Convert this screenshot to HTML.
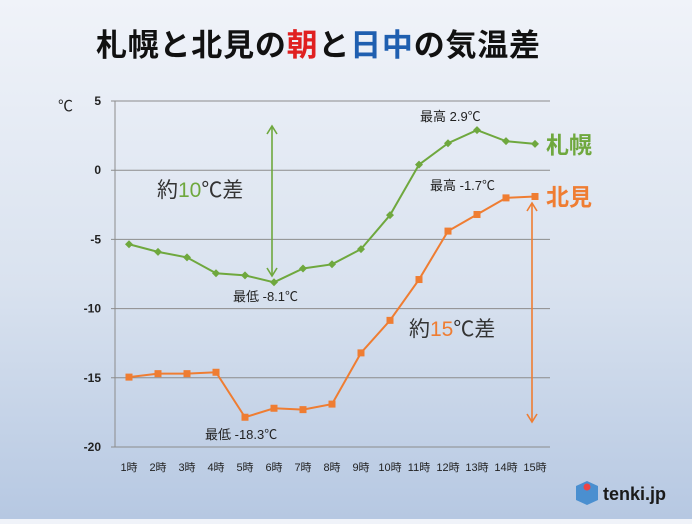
<!DOCTYPE html>
<html><head><meta charset="utf-8"><style>
html,body{margin:0;padding:0}
body{width:692px;height:519px;overflow:hidden;background:linear-gradient(#f0f3f9 0%,#d9e2ef 55%,#b6c8e2 100%);font-family:"Liberation Sans","Noto Sans CJK JP",sans-serif}
svg text{font-family:"Liberation Sans","Noto Sans CJK JP",sans-serif}
</style></head><body>
<svg id="chart" width="692" height="519">
<text x="318" y="56" text-anchor="middle" font-size="31" font-weight="bold" fill="#111" textLength="444">札幌と北見の<tspan fill="#e02020">朝</tspan>と<tspan fill="#1f5fb0">日中</tspan>の気温差</text>
<text x="58" y="111" font-size="15" fill="#222">℃</text>
<g id="grid"></g><g id="series"></g>
</svg>
<script>
const categories=["1時","2時","3時","4時","5時","6時","7時","8時","9時","10時","11時","12時","13時","14時","15時"];
const sapporo=[-5.35,-5.9,-6.3,-7.45,-7.6,-8.1,-7.1,-6.8,-5.7,-3.25,0.4,1.95,2.9,2.1,1.9];
const kitami=[-14.95,-14.7,-14.7,-14.6,-17.85,-17.2,-17.3,-16.9,-13.2,-10.85,-7.9,-4.4,-3.2,-2.0,-1.9];
const yTicks=[5,0,-5,-10,-15,-20];
const NS="http://www.w3.org/2000/svg";
const L=115,R=550,X0=129,XS=29,Y5=101,PU=13.84;
function x(i){return X0+i*XS}
function y(v){return Y5+(5-v)*PU}
function mk(tag,at,parent){const e=document.createElementNS(NS,tag);for(const k in at)e.setAttribute(k,at[k]);parent.appendChild(e);return e}
const svg=document.getElementById('chart'),grid=document.getElementById('grid'),ser=document.getElementById('series');
yTicks.forEach(v=>{
 const l=mk('line',{x1:L-4,x2:R,y1:y(v),y2:y(v),stroke:'#8c8c8c','stroke-width':1},grid);
 
 
 const t=mk('text',{x:101,y:y(v)+4,'text-anchor':'end','font-size':12,'font-weight':'bold',fill:'#222'},grid);t.textContent=v;
 
 
});
const ax=mk('line',{x1:L,x2:L,y1:y(5),y2:y(-20),stroke:'#8c8c8c'},grid);


categories.forEach((c,i)=>{
 const t=mk('text',{x:x(i),y:471,'text-anchor':'middle','font-size':11,fill:'#222'},grid);t.textContent=c;
 
 
});
function draw(data,color,name,marker){
 const p=mk('polyline',{points:data.map((v,i)=>x(i)+','+y(v)).join(' '),fill:'none',stroke:color,'stroke-width':2},ser);
 
 
 data.forEach((v,i)=>{
  let m;
  if(marker==='d'){m=mk('polygon',{points:`${x(i)},${y(v)-4} ${x(i)+4},${y(v)} ${x(i)},${y(v)+4} ${x(i)-4},${y(v)}`,fill:color},ser);}
  else{m=mk('rect',{x:x(i)-3.5,y:y(v)-3.5,width:7,height:7,fill:color},ser);}
  
  
 });
}
draw(sapporo,'#6fa83e','sapporo','d');
draw(kitami,'#ef7d32','kitami','s');
function arrow(xx,y1,y2,color,name){
 const g=mk('g',{stroke:color,'stroke-width':1.6,fill:'none'},ser);
 
 
 mk('line',{x1:xx,x2:xx,y1:y1,y2:y2},g);
 mk('polyline',{points:`${xx-5},${y1+8} ${xx},${y1} ${xx+5},${y1+8}`},g);
 mk('polyline',{points:`${xx-5},${y2-8} ${xx},${y2} ${xx+5},${y2-8}`},g);
}
arrow(272,126,276,'#6fa83e','sapporo-diff-arrow');
arrow(532,203,422,'#ef7d32','kitami-diff-arrow');
function label(txt,xx,yy,size,fill,name,weight){
 const t=mk('text',{x:xx,y:yy,'font-size':size,fill:fill,'font-weight':weight||'normal'},svg);t.innerHTML=txt;
 
 
}
label('約<tspan fill="#6fa83e">10</tspan>℃差',157,197,21,'#333','sapporo-diff-label');
label('約<tspan fill="#ef7d32">15</tspan>℃差',409,336,21,'#333','kitami-diff-label');
label('最高 2.9℃',420,121,13,'#222','sapporo-max-label');
label('最高 -1.7℃',430,190,13,'#222','kitami-max-label');
label('最低 -8.1℃',233,301,13,'#222','sapporo-min-label');
label('最低 -18.3℃',205,439,13,'#222','kitami-min-label');
label('札幌',546,153,23,'#6fa83e','sapporo-legend','bold');
label('北見',546,205,23,'#ef7d32','kitami-legend','bold');
label('tenki.jp',603,500,18,'#1a1a1a','tenki-logo-text','bold');
const lg=mk('g',{},svg);


mk('polygon',{points:'587,481 598,486 598,500 587,505 576,500 576,486',fill:'#4a8fd0'},lg);
mk('circle',{cx:587,cy:487,r:3.5,fill:'#e44'},lg);
</script>
</body></html>
